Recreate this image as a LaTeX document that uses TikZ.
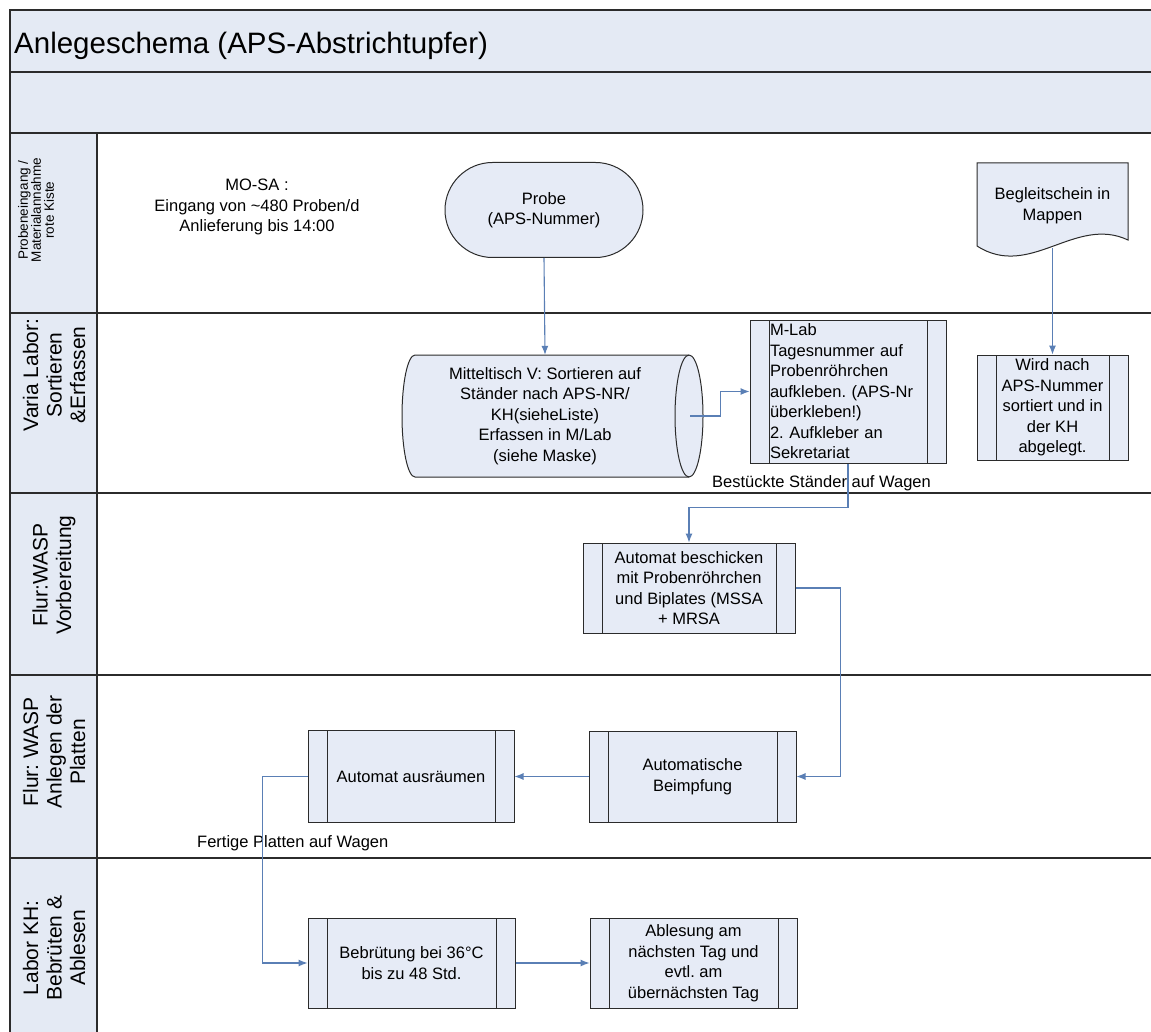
\documentclass[tikz,border=0pt]{standalone}
\usepackage{fontspec}
\setmainfont{Liberation Sans}
\usetikzlibrary{shapes.misc,arrows.meta}
\definecolor{lanefill}{HTML}{E4EAF4}
\definecolor{boxfill}{HTML}{E6EBF6}
\definecolor{conn}{HTML}{5A7FB5}
\definecolor{edge}{HTML}{2B2B2B}
\frenchspacing
\tikzset{
  lanebox/.style={draw=edge, line width=1.2pt, fill=lanefill},
  lanebody/.style={draw=edge, line width=1.2pt, fill=white},
  nodefont/.style={font=\fontsize{16.5}{20.5}\selectfont},
  procbox/.style={nodefont, draw=edge, line width=1pt, fill=boxfill, rectangle, inner sep=0pt, align=center,
    path picture={
      \draw[edge, line width=1pt] ([xshift=19pt]path picture bounding box.north west) -- ([xshift=19pt]path picture bounding box.south west);
      \draw[edge, line width=1pt] ([xshift=-19pt]path picture bounding box.north east) -- ([xshift=-19pt]path picture bounding box.south east);}},
  termbox/.style={nodefont, draw=edge, line width=1pt, fill=boxfill, rounded rectangle, inner sep=0pt, align=center},
  plaintext/.style={nodefont, align=center, inner sep=0pt},
  flow/.style={draw=conn, line width=1.1pt, -{Latex[length=9pt,width=7pt]}},
  lanelabel/.style={rotate=90, align=center, inner sep=0pt, font=\fontsize{21}{23.5}\selectfont},
}
\begin{document}
\begin{tikzpicture}[x=1pt,y=-1pt]
\useasboundingbox (0,0) rectangle (1151,1032);
\clip (0,0) rectangle (1151,1032);
\fill[white] (0,0) rectangle (1151,1032);

% header bars
\draw[lanebox] (10,10) rectangle (1170,72);
\draw[lanebox] (10,72) rectangle (1170,133);
\node[anchor=base west, inner sep=0pt, font=\fontsize{29.5}{34}\selectfont] (title) at (14,54) {Anlegeschema (APS-Abstrichtupfer)};

% lanes
\foreach \a/\b in {133/313, 313/493, 493/675, 675/858, 858/1045} {
  \draw[lanebody] (97,\a) rectangle (1170,\b);
  \draw[lanebox] (10,\a) rectangle (97,\b);
}
\node[lanelabel, font=\fontsize{13.5}{13}\selectfont] (lab1) at (36,210) {Probeneingang /\\Materialannahme\\rote Kiste};
\node[lanelabel] (lab2) at (54,375) {Varia Labor:\\Sortieren\\\&Erfassen};
\node[lanelabel] (lab3) at (54,575) {Flur:WASP\\Vorbereitung};
\node[lanelabel] (lab4) at (54,752) {Flur: WASP\\Anlegen der\\Platten};
\node[lanelabel] (lab5) at (54,948) {Labor KH:\\Bebrüten \&\\Ablesen};

% lane 1
\node[plaintext] (intro) at (257,207) {MO-SA :\\Eingang von \textasciitilde480 Proben/d\\Anlieferung bis 14:00};
\node[termbox, minimum width=198pt, minimum height=95pt] (probe) at (544,210) {Probe\\(APS-Nummer)};
\draw[edge, line width=1pt, fill=boxfill] (977,163) -- (1128,163) -- (1128,240)
   .. controls (1075,215) and (1030,280) .. (977,246) -- cycle;
\node[plaintext, minimum width=151pt, minimum height=85pt] (doc) at (1052.5,205.5) {Begleitschein in\\Mappen};

% lane 2
\draw[edge, line width=1pt, fill=boxfill] (415,355) -- (689,355)
   arc[start angle=270, end angle=450, x radius=14, y radius=61] -- (415,477)
   arc[start angle=90, end angle=270, x radius=13, y radius=61] -- cycle;
\draw[edge, line width=1pt] (689,355) arc[start angle=270, end angle=90, x radius=14, y radius=61];
\node[plaintext, minimum width=270pt, minimum height=122pt] (mt) at (545,416) {Mitteltisch V: Sortieren auf\\Ständer nach APS-NR/\\KH(sieheListe)\\Erfassen in M/Lab\\(siehe Maske)};
\node[procbox, minimum width=196pt, minimum height=143pt, text width=156pt, align=left] (mlab) at (848,391.5) {M-Lab\\Tagesnummer auf\\Probenröhrchen\\aufkleben. (APS-Nr\\überkleben!)\\2. Aufkleber an\\Sekretariat};
\node[procbox, minimum width=151pt, minimum height=105pt] (wird) at (1052.5,407.5) {Wird nach\\APS-Nummer\\sortiert und in\\der KH\\abgelegt.};
\node[plaintext, anchor=west] (lblA) at (712,483) {Bestückte Ständer auf Wagen};

% lane 3
\node[procbox, minimum width=212pt, minimum height=90pt] (besch) at (689,588) {Automat beschicken\\mit Probenröhrchen\\und Biplates (MSSA\\+ MRSA};

% lane 4
\node[procbox, minimum width=207pt, minimum height=91pt] (beimpf) at (692.5,776.5) {Automatische\\Beimpfung};
\node[procbox, minimum width=206pt, minimum height=92pt] (ausr) at (411,776.5) {Automat ausräumen};
\node[plaintext, anchor=west] (lblB) at (197,843) {Fertige Platten auf Wagen};

% lane 5
\node[procbox, minimum width=207pt, minimum height=90pt] (bebr) at (411.5,963) {Bebrütung bei 36°C\\bis zu 48 Std.};
\node[procbox, minimum width=207pt, minimum height=90pt] (abl) at (693.5,963) {Ablesung am\\nächsten Tag und\\evtl. am\\übernächsten Tag};

% connectors
\draw[flow] (probe.south) -- (mt.north);
\draw[flow] ([xshift=10pt]mt.east) -- ++(30,0) |- (mlab.west);
\draw[flow] (doc.south) -- (wird.north);
\draw[flow] (mlab.south) -- ++(0,44) -| (besch.north);
\draw[flow] (besch.east) -- ++(45,0) |- (beimpf.east);
\draw[flow] (beimpf.west) -- (ausr.east);
\draw[flow] (ausr.west) -- ++(-45,0) |- (bebr.west);
\draw[flow] (bebr.east) -- (abl.west);
\end{tikzpicture}
\end{document}
